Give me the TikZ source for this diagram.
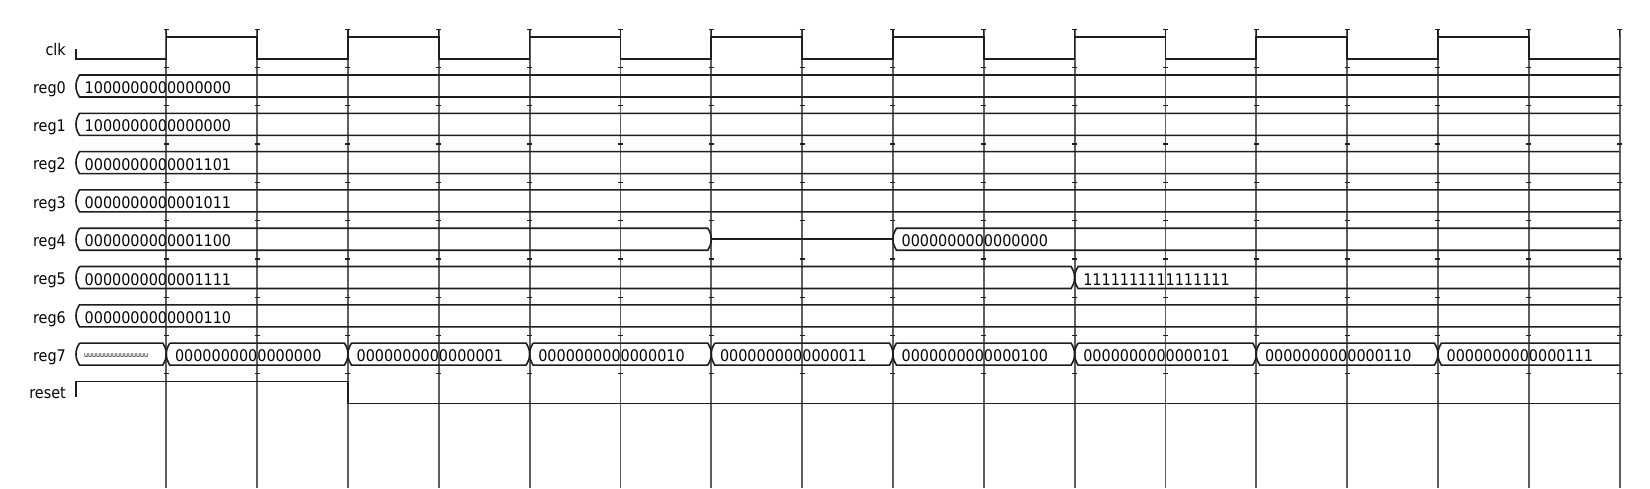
\documentclass[tikz,border=0pt]{standalone}
\usepackage{fontspec}
\setmainfont{DejaVu Sans Condensed}
\definecolor{sigc}{RGB}{30,30,30}
\definecolor{txtc}{RGB}{5,5,5}
\definecolor{gridc}{RGB}{95,95,95}
\tikzset{
  sig/.style={draw=sigc, line width=1.6pt, line join=miter},
  gridln/.style={draw=gridc, line width=1.8pt},
  tickmk/.style={draw=sigc, line width=1.2pt},
  lbl/.style={anchor=base east, inner sep=0pt, text=txtc, font=\fontsize{16}{18}\selectfont},
  val/.style={anchor=base west, inner sep=0pt, text=txtc, font=\fontsize{16}{18}\selectfont},
  tiny/.style={anchor=base west, inner sep=0pt, text=txtc, font=\fontsize{7}{8}\selectfont},
}
% bus segment with brackets at both ends: #1 x1, #2 x2, #3 top
\newcommand\busfull[3]{%
  \draw[sig] ({#1+3.5},#3) -- ({#2-3.5},#3) to[out=-60,in=90] (#2,{#3+11}) to[out=-90,in=60] ({#2-3.5},{#3+22})
     -- ({#1+3.5},{#3+22}) to[out=120,in=-90] (#1,{#3+11}) to[out=90,in=240] ({#1+3.5},#3);}
% bus segment open to the right end: #1 x1, #2 top
\newcommand\busopen[2]{%
  \draw[sig] (1619.6,#2) -- ({#1+3.5},#2) to[out=240,in=90] (#1,{#2+11}) to[out=-90,in=120] ({#1+3.5},{#2+22}) -- (1619.6,{#2+22});}
\begin{document}
\begin{tikzpicture}[x=1pt,y=-1pt]
\useasboundingbox (0,0) rectangle (1650,488);
\fill[white] (0,0) rectangle (1650,488);
% grid lines
\foreach \gx in {166.3,257.13,347.96,438.79,529.62,620.45,711.28,802.11,892.94,983.77,1074.6,1165.43,1256.26,1347.09,1437.92,1528.75,1619.6}{
  \draw[gridln] (\gx,29.3) -- (\gx,488);
  \draw[tickmk] (\gx,29.3) -- (\gx,36.7);
  \draw[tickmk] ({\gx-2.5},29.3) -- ({\gx+2.5},29.3);
  \foreach \ty in {67.4,105.7,144.0,182.3,220.6,258.9,297.2,335.5,373.8}{
    \draw[tickmk] ({\gx-2.5},\ty) -- ({\gx+2.5},\ty);
  }
}
% labels
\node[lbl] (lclk) at (66,55.0) {clk};
\node[lbl] (lr0) at (66,93.3) {reg0};
\node[lbl] (lr1) at (66,131.6) {reg1};
\node[lbl] (lr2) at (66,169.9) {reg2};
\node[lbl] (lr3) at (66,208.2) {reg3};
\node[lbl] (lr4) at (66,246.5) {reg4};
\node[lbl] (lr5) at (66,284.8) {reg5};
\node[lbl] (lr6) at (66,323.1) {reg6};
\node[lbl] (lr7) at (66,361.4) {reg7};
\node[lbl] (lrst) at (66,398.7) {reset};
% clk
\draw[sig] (76,49) -- (76,58.7) -| (166.3,36.7) -| (257.13,58.7) -| (347.96,36.7) -| (438.79,58.7)
  -| (529.62,36.7) -| (620.45,58.7) -| (711.28,36.7) -| (802.11,58.7) -| (892.94,36.7)
  -| (983.77,58.7) -| (1074.6,36.7) -| (1165.43,58.7) -| (1256.26,36.7) -| (1347.09,58.7)
  -| (1437.92,36.7) -| (1528.75,58.7) -- (1619.6,58.7);
% reg0 - reg3, reg6
\busopen{76}{75.0}   \node[val] (v0) at (84.5,93.5) {1000000000000000};
\busopen{76}{113.3}  \node[val] (v1) at (84.5,131.8) {1000000000000000};
\busopen{76}{151.6}  \node[val] (v2) at (84.5,170.1) {0000000000001101};
\busopen{76}{189.9}  \node[val] (v3) at (84.5,208.4) {0000000000001011};
\busopen{76}{304.8}  \node[val] (v6) at (84.5,323.3) {0000000000000110};
% reg4
\busfull{76}{711.28}{228.2} \node[val] (v4a) at (84.5,246.7) {0000000000001100};
\draw[sig] (711.28,239.2) -- (892.94,239.2);
\busopen{892.94}{228.2} \node[val] (v4b) at (901.4,246.7) {0000000000000000};
% reg5
\busfull{76}{1074.6}{266.5} \node[val] (v5a) at (84.5,285.0) {0000000000001111};
\busopen{1074.6}{266.5} \node[val] (v5b) at (1083.1,285.0) {1111111111111111};
% reg7
\busfull{76}{166.3}{343.1} \node[tiny] (v7u) at (84,357.7) {uuuuuuuuuuuuuuuu};
\busfull{166.3}{347.96}{343.1}   \node[val] (v70) at (174.8,361.6) {0000000000000000};
\busfull{347.96}{529.62}{343.1}  \node[val] (v71) at (356.4,361.6) {0000000000000001};
\busfull{529.62}{711.28}{343.1}  \node[val] (v72) at (538.1,361.6) {0000000000000010};
\busfull{711.28}{892.94}{343.1}  \node[val] (v73) at (719.8,361.6) {0000000000000011};
\busfull{892.94}{1074.6}{343.1}  \node[val] (v74) at (901.4,361.6) {0000000000000100};
\busfull{1074.6}{1256.26}{343.1} \node[val] (v75) at (1083.1,361.6) {0000000000000101};
\busfull{1256.26}{1437.92}{343.1} \node[val] (v76) at (1264.8,361.6) {0000000000000110};
\busopen{1437.92}{343.1}          \node[val] (v77) at (1446.4,361.6) {0000000000000111};
% reset
\draw[sig] (76,397) -- (76,381.4) -| (347.96,403.4) -- (1619.6,403.4);
\end{tikzpicture}
\end{document}
